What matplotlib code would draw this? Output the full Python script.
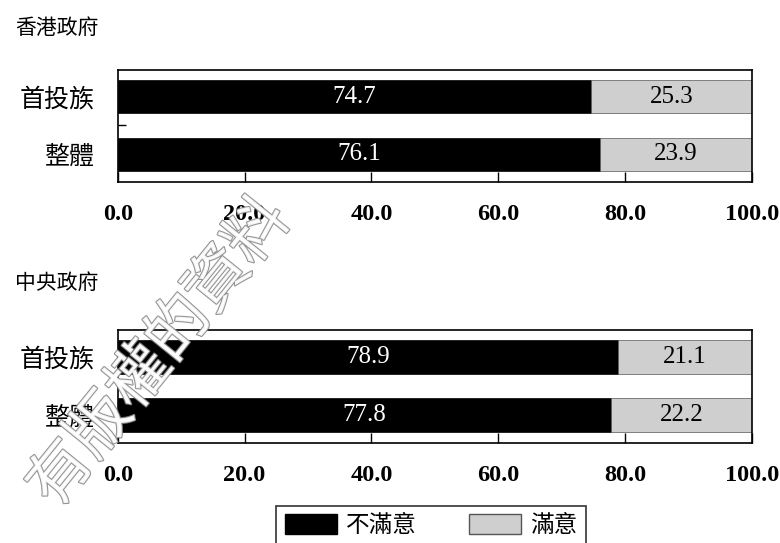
import matplotlib
matplotlib.use("Agg")
import matplotlib.pyplot as plt
import matplotlib.patheffects as pe
from matplotlib.patches import Patch

plt.rcParams['font.family'] = ['Liberation Serif', 'Noto Sans CJK TC', 'DejaVu Sans']

# data
groups = ['首投族', '整體']
panels = ['香港政府', '中央政府']
unsatisfied = [[74.7, 76.1], [78.9, 77.8]]
satisfied = [[25.3, 23.9], [21.1, 22.2]]
xticks = [0, 20, 40, 60, 80, 100]
legend_labels = ['不滿意', '滿意']

cjk = ['Noto Sans CJK TC', 'DejaVu Sans']
grey = '#cfcfcf'

fig = plt.figure(figsize=(7.8, 5.43), dpi=100)

ax_rects = [[0.151, 0.665, 0.813, 0.206], [0.151, 0.184, 0.813, 0.208]]
title_y = [1 - 28 / 543, 1 - 283 / 543]

for k in range(2):
    ax = fig.add_axes(ax_rects[k])
    ypos = [1, 0]
    ax.barh(ypos, unsatisfied[k], height=0.58, color='black', edgecolor='black', linewidth=0.5)
    ax.barh(ypos, satisfied[k], left=unsatisfied[k], height=0.58, color=grey,
            edgecolor='#555555', linewidth=0.5)
    for y, u, s in zip(ypos, unsatisfied[k], satisfied[k]):
        ax.text(u / 2, y, '%.1f' % u, color='white', ha='center', va='center', fontsize=18)
        ax.text(u + s / 2, y, '%.1f' % s, color='black', ha='center', va='center', fontsize=18)
    ax.set_xlim(0, 100)
    ax.set_ylim(-0.48, 1.46)
    ax.set_xticks(xticks)
    ax.set_xticklabels(['%.1f' % t for t in xticks], fontsize=17.5, fontweight='bold')
    ax.tick_params(axis='x', direction='in', length=7, width=1, pad=16)
    ax.set_yticks(ypos)
    ax.set_yticklabels(groups, fontsize=18, family=cjk)
    ax.tick_params(axis='y', length=0, pad=17)
    ax.set_yticks([0.5], minor=True)
    ax.tick_params(axis='y', which='minor', direction='in', length=6, width=1)
    for sp in ax.spines.values():
        sp.set_linewidth(1.2)
    fig.text(15 / 780, title_y[k], panels[k], fontsize=15, family=cjk, va='center', ha='left')

handles = [Patch(facecolor='black', edgecolor='black'),
           Patch(facecolor=grey, edgecolor='#555555')]
leg = fig.legend(handles, legend_labels, loc='upper center', bbox_to_anchor=(431 / 780, 1 - 494 / 543),
                 ncol=2, frameon=True, fancybox=False, prop={'family': cjk, 'size': 17},
                 handlelength=2.2, handleheight=0.9, columnspacing=2.2, borderpad=0.35,
                 handletextpad=0.4)
leg.get_frame().set_edgecolor('black')
leg.get_frame().set_linewidth(1.2)

# watermark
fig.text(0.205, 0.35, '有版權的資料', fontsize=45, rotation=51, family=cjk, color='white',
         ha='center', va='center', alpha=0.9, zorder=10,
         path_effects=[pe.withStroke(linewidth=1.6, foreground='#8a8a8a')])

fig.savefig('out.png', dpi=100)
